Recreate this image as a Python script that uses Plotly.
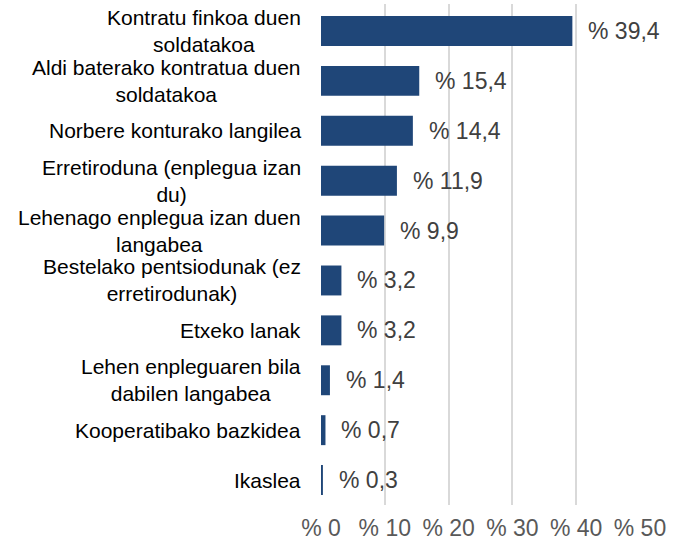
import plotly.graph_objects as go

categories = [
    "Kontratu finkoa duen<br>soldatakoa",
    "Aldi baterako kontratua duen<br>soldatakoa",
    "Norbere konturako langilea",
    "Erretiroduna (enplegua izan<br>du)",
    "Lehenago enplegua izan duen<br>langabea",
    "Bestelako pentsiodunak (ez<br>erretirodunak)",
    "Etxeko lanak",
    "Lehen enpleguaren bila<br>dabilen langabea",
    "Kooperatibako bazkidea",
    "Ikaslea",
]
values = [39.4, 15.4, 14.4, 11.9, 9.9, 3.2, 3.2, 1.4, 0.7, 0.3]
tick_vals = [0, 10, 20, 30, 40, 50]
tick_text = ["% 0", "% 10", "% 20", "% 30", "% 40", "% 50"]

FONT = "Liberation Sans, Arial, sans-serif"

fig = go.Figure(go.Bar(
    x=values, y=categories, orientation="h",
    marker=dict(color="#1F4678", line=dict(width=0)),
    hoverinfo="skip",
))

for c, v in zip(categories, values):
    # value label
    fig.add_annotation(
        x=v, y=c, xref="x", yref="y", text="% " + f"{v:.1f}".replace(".", ","),
        showarrow=False, xanchor="left", yanchor="middle", xshift=14,
        font=dict(family=FONT, size=23, color="#404040"),
    )
    # category label (centered multi-line, like the original)
    fig.add_annotation(
        x=0, y=c, xref="paper", yref="y", text=c, align="center",
        showarrow=False, xanchor="right", yanchor="middle", xshift=-18,
        font=dict(family=FONT, size=21, color="#000000"),
    )

fig.update_layout(
    width=680, height=546,
    margin=dict(l=321, r=40, t=4, b=41),
    paper_bgcolor="white", plot_bgcolor="white",
    bargap=0.4, showlegend=False,
    font=dict(family=FONT),
)
fig.update_xaxes(
    range=[0, 50], tickvals=tick_vals, ticktext=tick_text,
    showgrid=True, gridcolor="#D9D9D9", gridwidth=2,
    zeroline=False, showline=False, ticks="",
    tickfont=dict(family=FONT, size=23, color="#595959"),
    ticklabelstandoff=7,
)
fig.update_yaxes(
    autorange="reversed", showgrid=False, zeroline=False, showline=False,
    ticks="", showticklabels=False,
)

fig.write_html(
    "out.html",
    config={"displayModeBar": False, "staticPlot": True},
    post_script="document.body.style.margin='0';document.body.style.overflow='hidden';",
)
